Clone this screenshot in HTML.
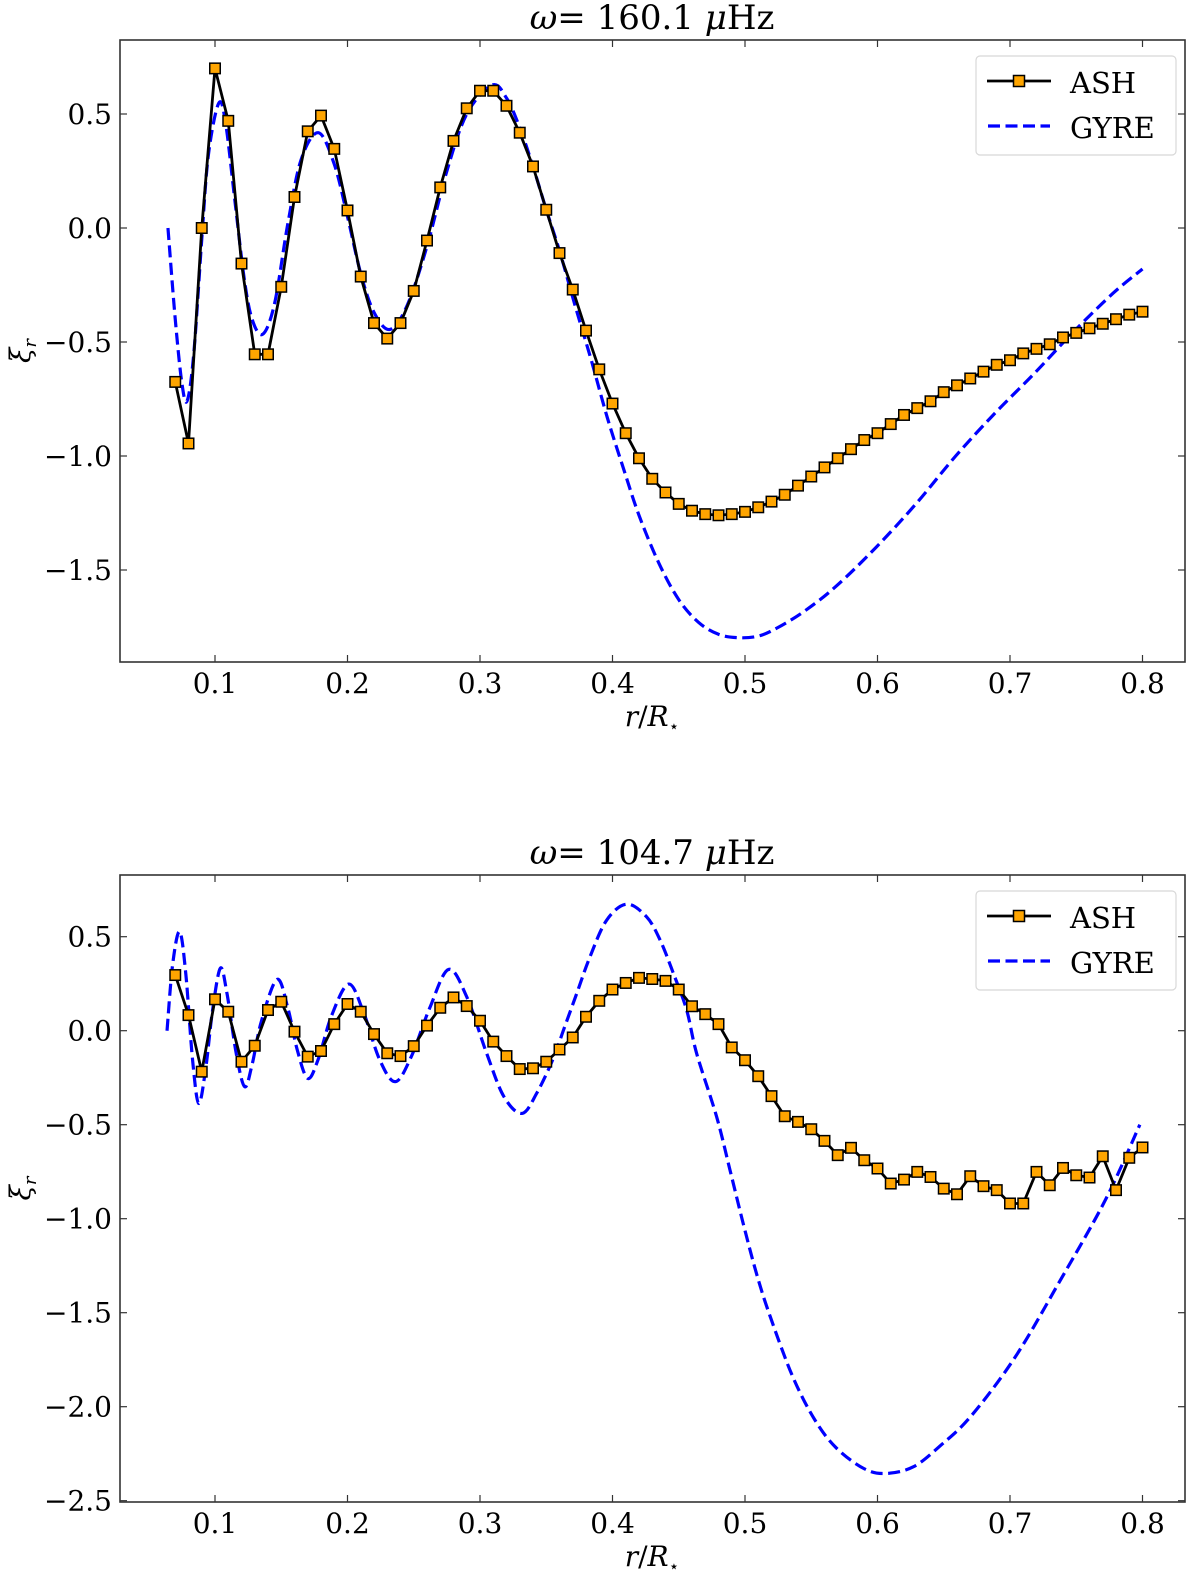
<!DOCTYPE html>
<html><head><meta charset="utf-8">
<style>
html,body{margin:0;padding:0;background:#fff;}
svg{display:block;}
text{font-family:"DejaVu Serif","Liberation Serif",serif;fill:#000;}
</style></head>
<body>
<svg id="fig" width="1200" height="1577" viewBox="0 0 1200 1577" xmlns="http://www.w3.org/2000/svg"></svg>
<script>
// ---- Data ----
const ashR = [];
for (let i = 0; i <= 73; i++) ashR.push(+(0.07 + i * 0.01).toFixed(2));
const ashTop = [-0.675,-0.945,0.0,0.70,0.47,-0.156,-0.554,-0.554,-0.258,0.136,0.424,0.493,0.347,0.077,-0.213,-0.417,-0.485,-0.417,-0.276,-0.055,0.178,0.382,0.525,0.602,0.602,0.536,0.418,0.27,0.08,-0.11,-0.27,-0.45,-0.62,-0.77,-0.90,-1.01,-1.10,-1.16,-1.21,-1.24,-1.255,-1.26,-1.255,-1.245,-1.225,-1.20,-1.17,-1.13,-1.09,-1.05,-1.01,-0.97,-0.93,-0.90,-0.86,-0.82,-0.79,-0.76,-0.72,-0.69,-0.66,-0.63,-0.60,-0.58,-0.55,-0.53,-0.51,-0.48,-0.46,-0.44,-0.42,-0.40,-0.38,-0.367];
const ashBot = [0.296,0.083,-0.218,0.167,0.101,-0.165,-0.08,0.11,0.154,-0.005,-0.138,-0.108,0.035,0.142,0.101,-0.018,-0.12,-0.135,-0.082,0.027,0.122,0.177,0.131,0.053,-0.058,-0.135,-0.204,-0.20,-0.165,-0.10,-0.036,0.074,0.159,0.219,0.254,0.281,0.275,0.265,0.219,0.130,0.088,0.035,-0.089,-0.157,-0.242,-0.348,-0.455,-0.485,-0.524,-0.586,-0.662,-0.623,-0.689,-0.733,-0.813,-0.792,-0.751,-0.778,-0.84,-0.87,-0.774,-0.827,-0.848,-0.919,-0.919,-0.751,-0.822,-0.73,-0.769,-0.781,-0.668,-0.848,-0.676,-0.621];
const gyreTopR = [0.0645,0.070,0.075,0.079,0.084,0.090,0.095,0.1028,0.108,0.115,0.122,0.128,0.136,0.145,0.155,0.165,0.178,0.190,0.200,0.210,0.220,0.232,0.245,0.260,0.275,0.290,0.309,0.320,0.330,0.340,0.350,0.360,0.372,0.384,0.396,0.408,0.420,0.435,0.450,0.465,0.480,0.495,0.510,0.524,0.545,0.569,0.599,0.629,0.659,0.689,0.718,0.748,0.778,0.800];
const gyreTopV = [0,-0.40,-0.68,-0.758,-0.55,-0.05,0.32,0.547,0.46,0.12,-0.22,-0.40,-0.466,-0.33,0.02,0.30,0.418,0.28,0.05,-0.20,-0.37,-0.445,-0.34,-0.08,0.25,0.50,0.627,0.57,0.44,0.27,0.08,-0.10,-0.345,-0.58,-0.83,-1.05,-1.26,-1.47,-1.63,-1.73,-1.782,-1.797,-1.79,-1.755,-1.68,-1.57,-1.40,-1.21,-1.00,-0.81,-0.64,-0.455,-0.285,-0.18];
const gyreBotR = [0.0638,0.068,0.0733,0.078,0.083,0.0877,0.093,0.098,0.104,0.109,0.116,0.1224,0.128,0.135,0.1468,0.155,0.162,0.170,0.178,0.188,0.2009,0.212,0.224,0.236,0.248,0.262,0.2763,0.290,0.305,0.318,0.3317,0.343,0.3553,0.363,0.373,0.383,0.3956,0.4107,0.4258,0.436,0.446,0.456,0.4635,0.4786,0.4887,0.4988,0.509,0.519,0.536,0.5527,0.569,0.590,0.6066,0.627,0.647,0.6706,0.704,0.738,0.772,0.798];
const gyreBotV = [0,0.35,0.527,0.30,-0.15,-0.387,-0.20,0.10,0.332,0.20,-0.12,-0.298,-0.18,0.05,0.273,0.12,-0.10,-0.254,-0.15,0.08,0.248,0.10,-0.15,-0.271,-0.14,0.12,0.326,0.18,-0.12,-0.35,-0.44,-0.33,-0.148,0.003,0.198,0.393,0.588,0.673,0.605,0.481,0.304,0.109,-0.121,-0.458,-0.742,-1.03,-1.30,-1.52,-1.84,-2.07,-2.22,-2.33,-2.355,-2.32,-2.21,-2.05,-1.735,-1.327,-0.90,-0.50];
const xTicks = [0.1,0.2,0.3,0.4,0.5,0.6,0.7,0.8];
const yTicksTop = [0.5,0.0,-0.5,-1.0,-1.5];
const yTicksBot = [0.5,0.0,-0.5,-1.0,-1.5,-2.0,-2.5];
const titles = ["160.1","104.7"];

const NS = "http://www.w3.org/2000/svg";
const svg = document.getElementById('fig');
function mk(tag, attrs, parent){ const e=document.createElementNS(NS,tag); for(const k in attrs) e.setAttribute(k,attrs[k]); (parent||svg).appendChild(e); return e; }
function fmt(v){ const s=Math.abs(v).toFixed(1); return v<0? "\u2212"+s : s; }

function smoothPath(pts){
  let d = "M"+pts[0][0].toFixed(2)+","+pts[0][1].toFixed(2);
  for(let i=0;i<pts.length-1;i++){
    const p0=pts[Math.max(0,i-1)], p1=pts[i], p2=pts[i+1], p3=pts[Math.min(pts.length-1,i+2)];
    const c1=[p1[0]+(p2[0]-p0[0])/6, p1[1]+(p2[1]-p0[1])/6];
    const c2=[p2[0]-(p3[0]-p1[0])/6, p2[1]-(p3[1]-p1[1])/6];
    d += " C"+c1[0].toFixed(2)+","+c1[1].toFixed(2)+" "+c2[0].toFixed(2)+","+c2[1].toFixed(2)+" "+p2[0].toFixed(2)+","+p2[1].toFixed(2);
  }
  return d;
}
function gyrePts(R,V,X,Y){ return R.map((r,i)=>[X(r),Y(V[i])]); }

function panel(cfg){
  const g = mk('g',{});
  
  
  const L=120, R=1185, T=cfg.top, B=cfg.bottom;
  const X = r => 215 + (r-0.1)*1325;
  const Y = v => cfg.zeroY - v*cfg.pxPerUnit;
  const cid='clip'+cfg.idx;
  const cp=mk('clipPath',{id:cid},g); mk('rect',{x:L,y:T,width:R-L,height:B-T},cp);
  const gp = gyrePts(cfg.gR, cfg.gV, X, Y);
  const gl = mk('path',{d:smoothPath(gp),fill:'none',stroke:'#0000ff','stroke-width':3.2,'stroke-dasharray':'12,5.5','clip-path':'url(#'+cid+')'},g);
  
  
  const ap = ashR.map((r,i)=>X(r).toFixed(2)+","+Y(cfg.ash[i]).toFixed(2)).join(" ");
  const al = mk('polyline',{points:ap,fill:'none',stroke:'#000','stroke-width':2.8,'stroke-linejoin':'round','clip-path':'url(#'+cid+')'},g);
  
  
  ashR.forEach((r,i)=>{
    const s=10.5;
    const m = mk('rect',{x:X(r)-s/2,y:Y(cfg.ash[i])-s/2,width:s,height:s,fill:'#ffa500',stroke:'#000','stroke-width':1.5},g);
    
    
  });
  const fr = mk('rect',{x:L,y:T,width:R-L,height:B-T,fill:'none',stroke:'#333','stroke-width':1.6},g);
  
  
  xTicks.forEach(t=>{
    const x=X(t);
    mk('line',{x1:x,y1:B,x2:x,y2:B-7,stroke:'#333','stroke-width':1.2},g);
    mk('line',{x1:x,y1:T,x2:x,y2:T+7,stroke:'#333','stroke-width':1.2},g);
    const tx = mk('text',{x:x,y:B+31,'font-size':28,'text-anchor':'middle'},g);
    tx.textContent = t.toFixed(1);
    
    
  });
  cfg.yTicks.forEach(t=>{
    const y=Y(t);
    mk('line',{x1:L,y1:y,x2:L+7,y2:y,stroke:'#333','stroke-width':1.2},g);
    mk('line',{x1:R,y1:y,x2:R-7,y2:y,stroke:'#333','stroke-width':1.2},g);
    const ty = mk('text',{x:112,y:y+10,'font-size':28,'text-anchor':'end'},g);
    ty.textContent = fmt(t);
    
    
  });
  const tt = mk('text',{x:652,y:T-11,'font-size':34,'text-anchor':'middle'},g);
  tt.innerHTML = '<tspan font-style="italic">ω</tspan>= '+cfg.title+' <tspan font-style="italic">μ</tspan>Hz';
  
  
  const xl = mk('text',{x:652,y:B+64,'font-size':28,'text-anchor':'middle'},g);
  xl.innerHTML = '<tspan font-style="italic">r</tspan>/<tspan font-style="italic">R</tspan><tspan font-size="17" dy="6">⋆</tspan>';
  
  
  const cy=(T+B)/2;
  const yl = mk('text',{x:0,y:0,'font-size':28,'text-anchor':'middle',transform:'translate(30,'+cy+') rotate(-90)'},g);
  yl.innerHTML = '<tspan font-style="italic">ξ</tspan><tspan font-style="italic" font-size="18" dy="6">r</tspan>';
  
  
  const lg = mk('g',{},g);
  
  
  const ly=T+16;
  mk('rect',{x:976,y:ly,width:200,height:99,rx:4,fill:'#fff',stroke:'#d8d8d8','stroke-width':1.2},lg);
  mk('line',{x1:987,y1:ly+25,x2:1051,y2:ly+25,stroke:'#000','stroke-width':2.8},lg);
  mk('rect',{x:1013.5,y:ly+19.5,width:11,height:11,fill:'#ffa500',stroke:'#000','stroke-width':1.5},lg);
  const t1=mk('text',{x:1070,y:ly+37,'font-size':29},lg); t1.textContent='ASH';
  
  
  mk('line',{x1:988,y1:ly+70,x2:1050,y2:ly+70,stroke:'#0000ff','stroke-width':3.2,'stroke-dasharray':'12,5.5'},lg);
  const t2=mk('text',{x:1070,y:ly+82,'font-size':29},lg); t2.textContent='GYRE';
  
  
}

panel({idx:0,name:'top-panel',top:40,bottom:662,zeroY:228,pxPerUnit:228,ash:ashTop,gR:gyreTopR,gV:gyreTopV,yTicks:yTicksTop,title:titles[0]});
panel({idx:1,name:'bottom-panel',top:875,bottom:1502,zeroY:1030.7,pxPerUnit:188,ash:ashBot,gR:gyreBotR,gV:gyreBotV,yTicks:yTicksBot,title:titles[1]});
</script>
</body></html>
